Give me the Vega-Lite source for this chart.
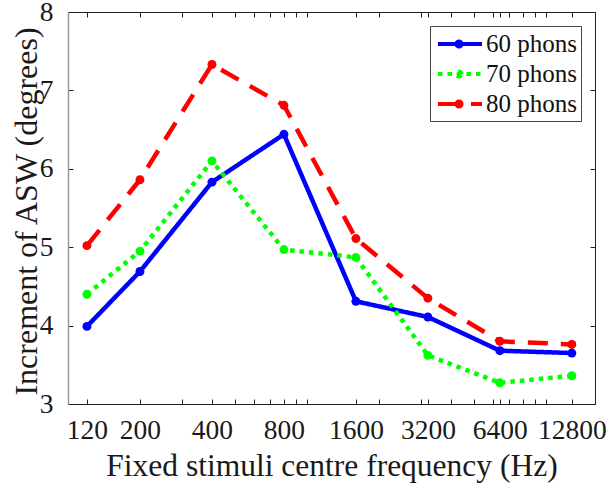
{
  "$schema": "https://vega.github.io/schema/vega-lite/v6.json",
  "width": 527,
  "height": 392,
  "autosize": {"type": "none"},
  "padding": {"left": 68, "top": 12, "right": 15, "bottom": 82},
  "background": "white",
  "config": {
    "font": "Liberation Serif",
    "view": {"stroke": null},
    "axis": {"labelFont": "Liberation Serif", "titleFont": "Liberation Serif", "labelColor": "#1a1a1a", "titleColor": "#1a1a1a", "titleFontWeight": "normal", "tickColor": "#222", "domainColor": "#222", "grid": false},
    "legend": {"labelFont": "Liberation Serif"}
  },
  "data": {
    "values": [
      {"freq": 120, "asw": 3.99, "level": "60 phons"},
      {"freq": 200, "asw": 4.69, "level": "60 phons"},
      {"freq": 400, "asw": 5.83, "level": "60 phons"},
      {"freq": 800, "asw": 6.44, "level": "60 phons"},
      {"freq": 1600, "asw": 4.31, "level": "60 phons"},
      {"freq": 3200, "asw": 4.11, "level": "60 phons"},
      {"freq": 6400, "asw": 3.68, "level": "60 phons"},
      {"freq": 12800, "asw": 3.65, "level": "60 phons"},
      {"freq": 120, "asw": 4.40, "level": "70 phons"},
      {"freq": 200, "asw": 4.95, "level": "70 phons"},
      {"freq": 400, "asw": 6.10, "level": "70 phons"},
      {"freq": 800, "asw": 4.97, "level": "70 phons"},
      {"freq": 1600, "asw": 4.87, "level": "70 phons"},
      {"freq": 3200, "asw": 3.62, "level": "70 phons"},
      {"freq": 6400, "asw": 3.27, "level": "70 phons"},
      {"freq": 12800, "asw": 3.36, "level": "70 phons"},
      {"freq": 120, "asw": 5.02, "level": "80 phons"},
      {"freq": 200, "asw": 5.86, "level": "80 phons"},
      {"freq": 400, "asw": 7.33, "level": "80 phons"},
      {"freq": 800, "asw": 6.81, "level": "80 phons"},
      {"freq": 1600, "asw": 5.11, "level": "80 phons"},
      {"freq": 3200, "asw": 4.35, "level": "80 phons"},
      {"freq": 6400, "asw": 3.80, "level": "80 phons"},
      {"freq": 12800, "asw": 3.76, "level": "80 phons"}
    ]
  },
  "layer": [
    {
      "mark": {"type": "line", "strokeWidth": 4.5, "strokeCap": "butt", "strokeJoin": "round"},
      "encoding": {
        "x": {
          "field": "freq", "type": "quantitative",
          "scale": {"type": "log", "base": 2, "domain": [100, 16000], "nice": false},
          "axis": {
            "orient": "bottom",
            "values": [120, 200, 300, 400, 500, 600, 700, 800, 900, 1000, 1600, 2000, 3000, 3200, 4000, 5000, 6000, 6400, 7000, 8000, 9000, 10000, 12800],
            "labelExpr": "indexof([120,200,400,800,1600,3200,6400,12800], datum.value) >= 0 ? '' + datum.value : ''",
            "labelOverlap": false, "labelFlush": false, "labelBound": false,
            "labelFontSize": 27.5, "labelPadding": 17,
            "tickSize": -5, "tickWidth": 1,
            "domainColor": "#222", "domainWidth": 1,
            "title": "Fixed stimuli centre frequency (Hz)",
            "titleFontSize": 31.5, "titleBaseline": "alphabetic", "titleY": 71
          }
        },
        "y": {
          "field": "asw", "type": "quantitative",
          "scale": {"domain": [3, 8], "nice": false, "zero": false},
          "axis": {
            "orient": "left",
            "values": [3, 4, 5, 6, 7, 8],
            "labelFontSize": 27.5, "labelPadding": 20,
            "tickSize": -5, "tickWidth": 1,
            "domainColor": "#999", "domainWidth": 1.5,
            "title": "Increment of ASW (degrees)",
            "titleFontSize": 32, "titleAngle": -90, "titleBaseline": "alphabetic", "titleX": -32, "titleY": 199
          }
        },
        "color": {
          "field": "level", "type": "nominal",
          "scale": {"domain": ["60 phons", "70 phons", "80 phons"], "range": ["#0000FF", "#00FF00", "#FF0000"]},
          "legend": {
            "title": null, "orient": "none", "legendX": 362, "legendY": 14,
            "strokeColor": "#444", "fillColor": "white", "padding": 4,
            "labelFont": "Liberation Serif", "labelFontSize": 25, "labelColor": "#111", "labelOffset": 24,
            "rowPadding": 3, "symbolStrokeWidth": 4, "symbolSize": 576, "symbolOffset": 0,
            "symbolType": "M1.127,0A0.21,0.21 0 1,0 0.707,0A0.21,0.21 0 1,0 1.127,0M-0.833,0H2.833",
            "encode": {"symbols": {"update": {"strokeJoin": {"value": "round"}}}}
          }
        },
        "strokeDash": {
          "field": "level", "type": "nominal",
          "scale": {"domain": ["60 phons", "70 phons", "80 phons"], "range": [[1, 0], [4.5, 5], [20, 13]]},
          "legend": {
            "title": null, "orient": "none", "legendX": 362, "legendY": 14,
            "strokeColor": "#444", "fillColor": "white", "padding": 4,
            "labelFont": "Liberation Serif", "labelFontSize": 25, "labelColor": "#111", "labelOffset": 24,
            "rowPadding": 3, "symbolStrokeWidth": 4, "symbolSize": 576, "symbolOffset": 0,
            "symbolType": "M1.127,0A0.21,0.21 0 1,0 0.707,0A0.21,0.21 0 1,0 1.127,0M-0.833,0H2.833",
            "encode": {"symbols": {"update": {"strokeJoin": {"value": "round"}}}}
          }
        }
      }
    },
    {
      "mark": {"type": "point", "filled": true, "size": 80, "opacity": 1, "shape": "circle"},
      "encoding": {
        "x": {
          "field": "freq", "type": "quantitative",
          "axis": {
            "orient": "top", "labels": false, "title": null,
            "values": [120, 200, 300, 400, 500, 600, 700, 800, 900, 1000, 1600, 2000, 3000, 3200, 4000, 5000, 6000, 6400, 7000, 8000, 9000, 10000, 12800],
            "tickSize": -5, "tickWidth": 1, "domainColor": "#222", "domainWidth": 1
          }
        },
        "y": {
          "field": "asw", "type": "quantitative",
          "axis": {
            "orient": "right", "labels": false, "title": null,
            "values": [3, 4, 5, 6, 7, 8],
            "tickSize": -5, "tickWidth": 1, "domainColor": "#222", "domainWidth": 1
          }
        },
        "color": {"field": "level", "type": "nominal", "legend": null}
      }
    }
  ],
  "resolve": {"axis": {"x": "independent", "y": "independent"}}
}
